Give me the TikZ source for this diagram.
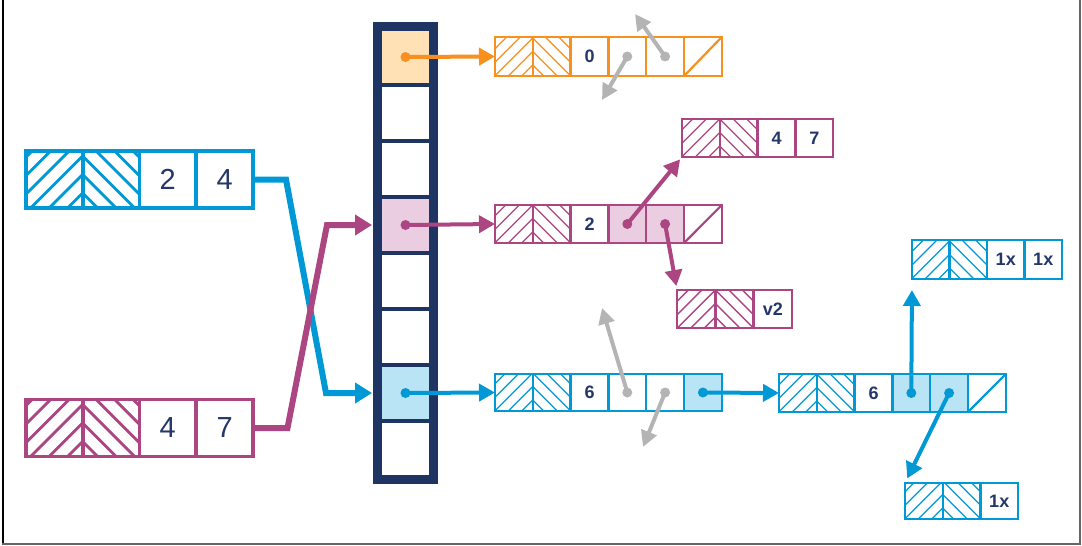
\documentclass[tikz,border=0pt]{standalone}
\usepackage{fontspec}
\setmainfont{Liberation Sans}
\usetikzlibrary{arrows.meta,calc}
\definecolor{cor}{HTML}{F7901E}
\definecolor{corf}{HTML}{FFE1B5}
\definecolor{cpk}{HTML}{AC4682}
\definecolor{cpkf}{HTML}{EBCDE1}
\definecolor{cbl}{HTML}{0099D6}
\definecolor{cblf}{HTML}{B9E4F5}
\definecolor{cnv}{HTML}{1E3462}
\definecolor{cgr}{HTML}{B4B4B4}
\definecolor{ctx}{HTML}{233768}
\definecolor{cfr}{HTML}{666666}
\newcommand\hatchpair[5]{%
  \begin{scope}
    \clip (#1.south west) rectangle (#1.north east);
    \foreach \k in {0,...,8} \draw[#5] ($(#1.south east)+({-#4-\k*#3},0)$) -- ++(90,-90);
  \end{scope}
  \begin{scope}
    \clip (#2.south west) rectangle (#2.north east);
    \foreach \k in {0,...,8} \draw[#5] ($(#2.south west)+({#4+\k*#3},0)$) -- ++(-90,-90);
  \end{scope}}
\tikzset{
  sbox/.style={draw, rectangle, inner sep=0pt, outer sep=0pt, minimum width=37.8pt,
    minimum height=38pt, line width=2.4pt, text=ctx, font=\bfseries\fontsize{18}{18}\selectfont},
  lbox/.style={draw, rectangle, inner sep=0pt, outer sep=0pt, minimum width=56.8pt,
    minimum height=57pt, line width=3.8pt, text=ctx, font=\fontsize{29}{29}\selectfont},
  colcell/.style={draw=cnv, rectangle, inner sep=0pt, outer sep=0pt, minimum width=51pt,
    minimum height=56pt, line width=3.8pt},
  nxt/.style={anchor=west},
  hatchs/.style={line width=1.3pt},
  hatchl/.style={line width=2.8pt},
  ptr/.style={line width=4pt, -{Triangle[length=16pt,width=17pt]}},
  bigptr/.style={line width=6pt, -{Triangle[length=17pt,width=20pt]}},
  gptr/.style={line width=4pt, cgr, -{Triangle[length=16pt,width=16pt]}},
}
\begin{document}
\begin{tikzpicture}[x=1pt,y=-1pt]
\useasboundingbox (0,0) rectangle (1082,546);
% frame
\draw[line width=2pt, black] (3,0) -- (3,545);
\draw[line width=2pt, cfr] (2,544) -- (1080,544) -- (1080,0);

% hash table column
\node[colcell, fill=corf] (C1) at (405.5,57) {};
\node[colcell, anchor=north] (C2) at (C1.south) {};
\node[colcell, anchor=north] (C3) at (C2.south) {};
\node[colcell, anchor=north, fill=cpkf] (C4) at (C3.south) {};
\node[colcell, anchor=north] (C5) at (C4.south) {};
\node[colcell, anchor=north] (C6) at (C5.south) {};
\node[colcell, anchor=north, fill=cblf] (C7) at (C6.south) {};
\node[colcell, anchor=north] (C8) at (C7.south) {};
\draw[cnv, line width=7pt] ([shift={(-3.5,-3.5)}]C1.north west) rectangle ([shift={(3.5,3.5)}]C8.south east);

% left boxes
\begin{scope}[cbl]
\node[lbox] (L11) at (54.2,179.5) {};
\node[lbox, nxt] (L12) at (L11.east) {};
\node[lbox, nxt] (L13) at (L12.east) {2};
\node[lbox, nxt] (L14) at (L13.east) {4};
\hatchpair{L11}{L12}{18.5}{15}{hatchl}
\end{scope}
\begin{scope}[cpk]
\node[lbox] (L21) at (54.2,428) {};
\node[lbox, nxt] (L22) at (L21.east) {};
\node[lbox, nxt] (L23) at (L22.east) {4};
\node[lbox, nxt] (L24) at (L23.east) {7};
\hatchpair{L21}{L22}{18.5}{15}{hatchl}
\end{scope}

% orange row
\begin{scope}[cor]
\node[sbox, minimum height=39pt] (O1) at (513.9,56.5) {};
\node[sbox, minimum height=39pt, nxt] (O2) at (O1.east) {};
\node[sbox, minimum height=39pt, nxt] (O3) at (O2.east) {0};
\node[sbox, minimum height=39pt, nxt] (O4) at (O3.east) {};
\node[sbox, minimum height=39pt, nxt] (O5) at (O4.east) {};
\node[sbox, minimum height=39pt, nxt] (O6) at (O5.east) {};
\hatchpair{O1}{O2}{13.5}{11}{hatchs}
\draw[line width=2.2pt] (O6.south west) -- (O6.north east);
\end{scope}

% pink row
\begin{scope}[cpk]
\node[sbox] (P1) at (513.9,224) {};
\node[sbox, nxt] (P2) at (P1.east) {};
\node[sbox, nxt] (P3) at (P2.east) {2};
\node[sbox, nxt, fill=cpkf] (P4) at (P3.east) {};
\node[sbox, nxt, fill=cpkf] (P5) at (P4.east) {};
\node[sbox, nxt] (P6) at (P5.east) {};
\hatchpair{P1}{P2}{13.5}{11}{hatchs}
\draw[line width=2.2pt] (P6.south west) -- (P6.north east);
% pink top
\node[sbox] (T1) at (700.9,138) {};
\node[sbox, nxt] (T2) at (T1.east) {};
\node[sbox, nxt] (T3) at (T2.east) {4};
\node[sbox, nxt] (T4) at (T3.east) {7};
\hatchpair{T1}{T2}{13.5}{11}{hatchs}
% pink v2
\node[sbox, minimum width=38.3pt] (V1) at (696.2,309) {};
\node[sbox, minimum width=38.3pt, nxt] (V2) at (V1.east) {};
\node[sbox, minimum width=38.3pt, nxt] (V3) at (V2.east) {v2};
\hatchpair{V1}{V2}{13.5}{11}{hatchs}
\end{scope}

% blue row
\begin{scope}[cbl]
\node[sbox, minimum height=37pt] (B1) at (513.9,392.5) {};
\node[sbox, minimum height=37pt, nxt] (B2) at (B1.east) {};
\node[sbox, minimum height=37pt, nxt] (B3) at (B2.east) {6};
\node[sbox, minimum height=37pt, nxt] (B4) at (B3.east) {};
\node[sbox, minimum height=37pt, nxt] (B5) at (B4.east) {};
\node[sbox, minimum height=37pt, nxt, fill=cblf] (B6) at (B5.east) {};
\hatchpair{B1}{B2}{13.5}{11}{hatchs}
% right row
\node[sbox] (R1) at (797.9,393) {};
\node[sbox, nxt] (R2) at (R1.east) {};
\node[sbox, nxt] (R3) at (R2.east) {6};
\node[sbox, nxt, fill=cblf] (R4) at (R3.east) {};
\node[sbox, nxt, fill=cblf] (R5) at (R4.east) {};
\node[sbox, nxt] (R6) at (R5.east) {};
\hatchpair{R1}{R2}{13.5}{11}{hatchs}
\draw[line width=2.2pt] (R6.south west) -- (R6.north east);
% right top
\node[sbox, minimum width=37.5pt, minimum height=39pt] (U1) at (930.75,259.5) {};
\node[sbox, minimum width=37.5pt, minimum height=39pt, nxt] (U2) at (U1.east) {};
\node[sbox, minimum width=37.5pt, minimum height=39pt, nxt] (U3) at (U2.east) {1x};
\node[sbox, minimum width=37.5pt, minimum height=39pt, nxt] (U4) at (U3.east) {1x};
\hatchpair{U1}{U2}{13.5}{11}{hatchs}
% right bottom
\node[sbox, minimum width=37.7pt, minimum height=36pt] (D1) at (923.85,501) {};
\node[sbox, minimum width=37.7pt, minimum height=36pt, nxt] (D2) at (D1.east) {};
\node[sbox, minimum width=37.7pt, minimum height=36pt, nxt] (D3) at (D2.east) {1x};
\hatchpair{D1}{D2}{13.5}{11}{hatchs}
\end{scope}

% column pointers
\fill[cor] (C1.center) circle (5);
\draw[ptr, cor] (C1.center) -- (O1.west);
\fill[cpk] (C4.center) circle (5);
\draw[ptr, cpk] (C4.center) -- (P1.west);
\fill[cbl] (C7.center) circle (5);
\draw[ptr, cbl] (C7.center) -- (B1.west);

% left connectors
\coordinate (lb1) at (286,179.5);
\coordinate (lb2) at (326,393);
\coordinate (lp1) at (287.5,428);
\coordinate (lp2) at (327,225);
\draw[bigptr, cbl, shorten >=8pt] (L14.east) -- (lb1) -- (lb2) -- (C7.west);
\draw[bigptr, cpk, shorten >=8pt] (L24.east) -- (lp1) -- (lp2) -- (C4.west);

% gray pointers
\coordinate (g1) at (602,100);
\coordinate (g2) at (635,14);
\coordinate (g3) at (602,308);
\coordinate (g4) at (643,447);
\fill[cgr] (O4.center) circle (5);
\draw[gptr] (O4.center) -- (g1);
\fill[cgr] (O5.center) circle (5);
\draw[gptr] (O5.center) -- (g2);
\fill[cgr] (B4.center) circle (5);
\draw[gptr] (B4.center) -- (g3);
\fill[cgr] (B5.center) circle (5);
\draw[gptr] (B5.center) -- (g4);

% pink pointers
\fill[cpk] (P4.center) circle (5);
\draw[ptr, cpk, shorten >=3pt] (P4.center) -- (T1.south west);
\fill[cpk] (P5.center) circle (5);
\draw[ptr, cpk, shorten >=4pt] (P5.center) -- (V1.north west);

% blue pointers
\fill[cbl] (B6.center) circle (5);
\draw[ptr, cbl] (B6.center) -- (R1.west);
\fill[cbl] (R4.center) circle (5);
\draw[ptr, cbl, shorten >=11pt] (R4.center) -- (U1.south west);
\fill[cbl] (R5.center) circle (5);
\draw[ptr, cbl, shorten >=5pt] (R5.center) -- (D1.north west);
\end{tikzpicture}
\end{document}
